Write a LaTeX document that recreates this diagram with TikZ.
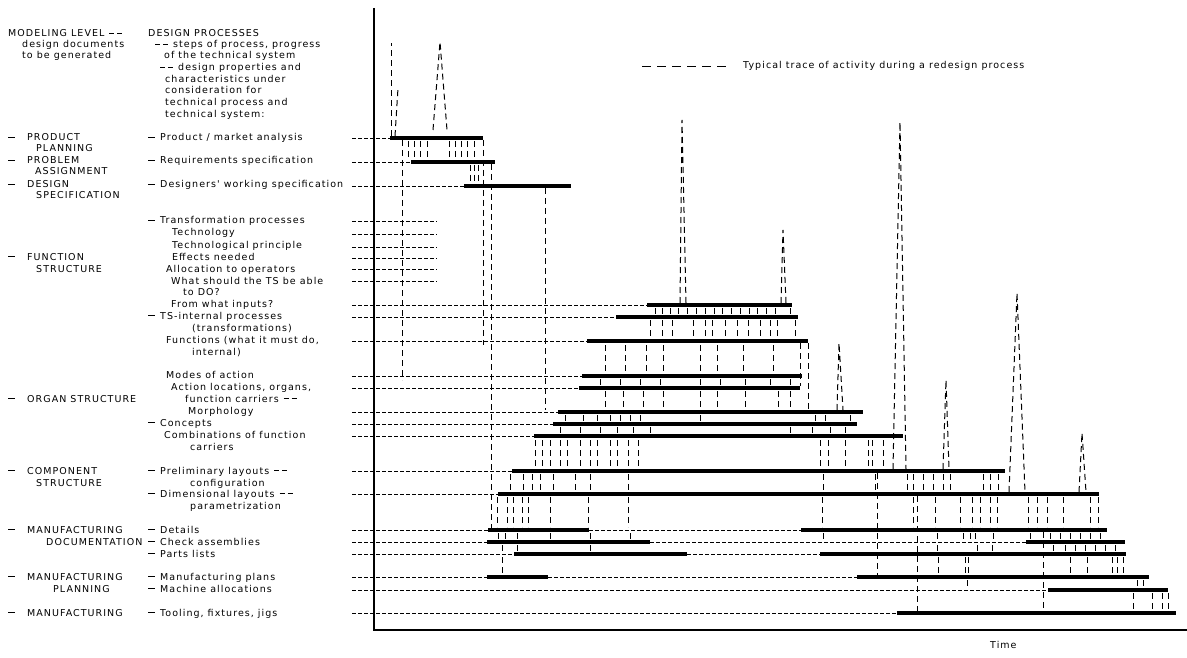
\documentclass[tikz,border=0pt]{standalone}
\usepackage{fontspec}
\newfontfamily\cadfont[LetterSpace=11]{DejaVu Sans}
\newcommand\dbar{\raisebox{2.9pt}{\rule{7pt}{0.75pt}}}
\newcommand\sbar{\raisebox{2.9pt}{\rule{5pt}{0.75pt}}}
\newcommand\dd{\sbar\hspace{3pt}\sbar}
\newcommand\ddash{\makebox[12pt][l]{\dbar}}
\newcommand\cdash{\makebox[19pt][l]{\dbar}}
\begin{document}
\begin{tikzpicture}[x=1pt,y=-1pt,
  txt/.style={anchor=base west,inner sep=0pt,font=\cadfont\fontsize{9.5}{10}\selectfont},
  guide/.style={dash pattern=on 3.5pt off 2.5pt,line width=0.7pt},
  barline/.style={line width=4pt},
  trace/.style={dash pattern=on 6pt off 4pt,line width=1pt},
  axisline/.style={line width=1.2pt}]
\useasboundingbox (0,0) rectangle (1187,658);
% axes
\coordinate (ytop) at (374,8);
\coordinate (orig) at (374,630);
\coordinate (xend) at (1187,630);
\draw[axisline] (ytop) -- (orig) -- (xend);
\node[txt] (time) at (990,648) {Time};
% legend
\coordinate (lg1) at (642,66);
\coordinate (lg2) at (728,66);
\draw[trace,line width=0.8pt,dash pattern=on 9pt off 6pt] (lg1) -- (lg2);
\node[txt] (legend) at (743,69) {Typical trace of activity during a redesign process};
% column 1
\node[txt] (m1) at (8,37) {MODELING LEVEL\hspace{5pt}\dd};
\node[txt] (m2) at (22,48) {design documents};
\node[txt] (m3) at (22,59) {to be generated};
\node[txt] (c1) at (8,141) {\cdash PRODUCT};
\node[txt] (c1b) at (36,152) {PLANNING};
\node[txt] (c2) at (8,164) {\cdash PROBLEM};
\node[txt] (c2b) at (35,175) {ASSIGNMENT};
\node[txt] (c3) at (8,188) {\cdash DESIGN};
\node[txt] (c3b) at (36,199) {SPECIFICATION};
\node[txt] (c4) at (8,260) {\cdash FUNCTION};
\node[txt] (c4b) at (36,272) {STRUCTURE};
\node[txt] (c5) at (8,402) {\cdash ORGAN STRUCTURE};
\node[txt] (c6) at (8,474) {\cdash COMPONENT};
\node[txt] (c6b) at (36,486) {STRUCTURE};
\node[txt] (c7) at (8,533) {\cdash MANUFACTURING};
\node[txt] (c7b) at (46,545) {DOCUMENTATION};
\node[txt] (c8) at (8,580) {\cdash MANUFACTURING};
\node[txt] (c8b) at (53,592) {PLANNING};
\node[txt] (c9) at (8,616) {\cdash MANUFACTURING};
% column 2
\node[txt] (d1) at (148,37) {DESIGN PROCESSES};
\node[txt] (d2) at (155,48) {\dd\hspace{5pt}steps of process, progress};
\node[txt] (d3) at (164,59) {of the technical system};
\node[txt] (d4) at (160,71) {\dd\hspace{5pt}design properties and};
\node[txt] (d5) at (165,83) {characteristics under};
\node[txt] (d6) at (165,94) {consideration for};
\node[txt] (d7) at (165,106) {technical process and};
\node[txt] (d8) at (165,118) {technical system:};
\node[txt] (p1) at (148,141) {\ddash Product / market analysis};
\node[txt] (p2) at (148,164) {\ddash Requirements specification};
\node[txt] (p3) at (148,188) {\ddash Designers' working specification};
\node[txt] (p4) at (148,224) {\ddash Transformation processes};
\node[txt] (p5) at (172,236) {Technology};
\node[txt] (p6) at (172,248) {Technological principle};
\node[txt] (p7) at (172,260) {Effects needed};
\node[txt] (p8) at (166,272) {Allocation to operators};
\node[txt] (p9) at (171,284) {What should the TS be able};
\node[txt] (p9b) at (183,295) {to DO?};
\node[txt] (p10) at (171,307) {From what inputs?};
\node[txt] (p11) at (148,319) {\ddash TS-internal processes};
\node[txt] (p11b) at (192,331) {(transformations)};
\node[txt] (p12) at (166,343) {Functions (what it must do,};
\node[txt] (p12b) at (192,355) {internal)};
\node[txt] (p13) at (166,378) {Modes of action};
\node[txt] (p14) at (171,390) {Action locations, organs,};
\node[txt] (p14b) at (185,402) {function carriers\hspace{5pt}\dd};
\node[txt] (p14c) at (188,414) {Morphology};
\node[txt] (p15) at (148,426) {\ddash Concepts};
\node[txt] (p16) at (164,438) {Combinations of function};
\node[txt] (p16b) at (190,450) {carriers};
\node[txt] (p17) at (148,474) {\ddash Preliminary layouts\hspace{5pt}\dd};
\node[txt] (p17b) at (190,486) {configuration};
\node[txt] (p18) at (148,497) {\ddash Dimensional layouts\hspace{5pt}\dd};
\node[txt] (p18b) at (190,509) {parametrization};
\node[txt] (p19) at (148,533) {\ddash Details};
\node[txt] (p20) at (148,545) {\ddash Check assemblies};
\node[txt] (p21) at (148,557) {\ddash Parts lists};
\node[txt] (p22) at (148,580) {\ddash Manufacturing plans};
\node[txt] (p23) at (148,592) {\ddash Machine allocations};
\node[txt] (p24) at (148,616) {\ddash Tooling, fixtures, jigs};
% guide lines
\foreach \y/\e in {138/390,162/411,186/464,221/437,234/437,247/437,258/437,269/437,281/437,
  305/647,317/616,341/587,376/582,388/579,412/558,424/553,436/534,471/512,494/498,
  530/488,542/487,554/514,577/487,590/1048,613/897}
  \draw[guide] (352,\y) -- (\e,\y);
\foreach \y/\a/\b in {530/589/801,542/650/1026,554/687/820,577/548/857}
  \draw[guide] (\a,\y) -- (\b,\y);
% bars
\foreach \y/\a/\b in {138/390/483,162/411/495,186/464/571,305/647/792,317/616/798,341/587/808,
  376/582/802,388/579/800,412/558/863,424/553/857,436/534/903,471/512/1005,494/498/1099,
  530/488/589,530/801/1107,542/487/650,542/1026/1125,554/514/687,554/820/1126,
  577/487/548,577/857/1149,590/1048/1168,613/897/1176}
  \draw[barline] (\a,\y) -- (\b,\y);
% trace: peaks
\draw[trace] (391,136) -- (391,43);
\draw[trace] (395,136) -- (398,88);
\draw[trace] (433,130) -- (440,42) -- (447,130);
\draw[trace] (680,303) -- (682,120) -- (686,303);
\draw[trace] (781,303) -- (783,230) -- (786,303);
\draw[trace] (893,469) -- (900,122) -- (906,469);
\draw[trace] (837,410) -- (839,343) -- (843,410);
\draw[trace] (943,469) -- (946,380) -- (949,469);
\draw[trace] (1009,492) -- (1017,293) -- (1025,492);
\draw[trace] (1079,492) -- (1082,433) -- (1086,492);
% trace: long verticals
\foreach \x/\a/\b in {402/140/380,483/140/345,491/164/528,545/188/410,877/473/575,917/496/611,1043/532/611,808/343/410,800/343/386}
  \draw[trace] (\x,\a) -- (\x,\b);
% trace: short steps
\foreach \x in {408,414,420,427,449,455,461,467,474} \draw[trace] (\x,141) -- (\x,159);
\foreach \x in {470,474,478} \draw[trace] (\x,165) -- (\x,183);
\foreach \x in {655,662,670,678,687,696,705,714,722,731,740,749,757,766,775,790} \draw[trace] (\x,308) -- (\x,314);
\foreach \x in {650,662,672,693,705,712,725,737,748,760,770,777,795} \draw[trace] (\x,320) -- (\x,338);
\foreach \x in {605,625,646,663,700,717,743,773} \draw[trace] (\x,345) -- (\x,373);
\foreach \x in {600,620,640,660,700,720,745,770,790} \draw[trace] (\x,379) -- (\x,385);
\foreach \x in {605,623,643,663,700,717,745,778,790} \draw[trace] (\x,391) -- (\x,409);
\foreach \x in {565,583,597,610,620,630,640,700,815,825,850} \draw[trace] (\x,415) -- (\x,421);
\foreach \x in {560,580,600,617,633,650,790,812,830,845} \draw[trace] (\x,427) -- (\x,433);
\foreach \x in {535,542,550,560,567,580,590,597,610,617,628,638,820,828,845,868,872,883} \draw[trace] (\x,440) -- (\x,468);
\foreach \x in {510,523,532,540,553,575,590,628,823,875,907,913,923,933,943,950,983,990,998} \draw[trace] (\x,474) -- (\x,491);
\foreach \x in {497,507,513,522,528,550,588,628,822,913,935,960,972,980,990,997,1028,1037,1047,1063,1090,1098} \draw[trace] (\x,497) -- (\x,527);
\foreach \x in {498,505,517,550,590,630,823,937,963,970,975,993,1030,1050,1060,1070,1080,1090,1100} \draw[trace] (\x,533) -- (\x,539);
\foreach \x in {502,517,590,937,977,992,1053,1065,1075,1085,1095,1105,1115} \draw[trace] (\x,545) -- (\x,551);
\foreach \x in {502,938,965,968,1070,1087,1112,1117,1123} \draw[trace] (\x,557) -- (\x,574);
\foreach \x in {967,1137,1143} \draw[trace] (\x,580) -- (\x,587);
\foreach \x in {1133,1152,1162,1168} \draw[trace] (\x,593) -- (\x,610);
\end{tikzpicture}
\end{document}
